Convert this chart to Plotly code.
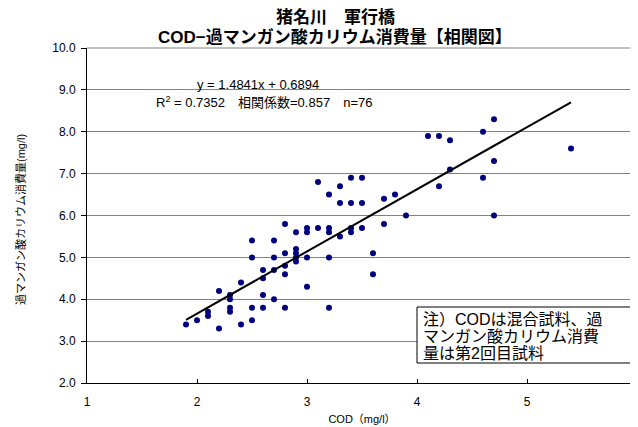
import plotly.graph_objects as go

# ---- data ----
cod = [1.9, 2.0, 2.1, 2.1, 2.2, 2.2, 2.3, 2.3, 2.3, 2.3,
       2.4, 2.4, 2.5, 2.5, 2.5, 2.5, 2.6, 2.6, 2.6, 2.6,
       2.7, 2.7, 2.7, 2.7, 2.8, 2.8, 2.8, 2.8, 2.8, 2.9,
       2.9, 2.9, 2.9, 2.9, 3.0, 3.0, 3.0, 3.0, 3.1, 3.1,
       3.2, 3.2, 3.2, 3.2, 3.2, 3.3, 3.3, 3.3, 3.4, 3.4,
       3.4, 3.4, 3.5, 3.5, 3.5, 3.6, 3.6, 3.7, 3.7, 3.8,
       3.9, 4.1, 4.2, 4.2, 4.3, 4.3, 4.6, 4.6, 4.7, 4.7,
       4.7, 5.4]
kmno4 = [3.4, 3.5, 3.7, 3.6, 4.2, 3.3, 4.1, 4.0, 3.8, 3.7,
         4.4, 3.4, 5.4, 5.0, 3.8, 3.5, 4.7, 4.5, 4.1, 3.8,
         5.4, 5.0, 4.7, 4.0, 5.8, 5.1, 4.8, 4.6, 3.8, 5.6,
         5.2, 5.1, 5.0, 4.9, 5.7, 5.6, 5.0, 4.3, 6.8, 5.7,
         6.5, 5.7, 5.6, 5.0, 3.8, 6.7, 6.3, 5.5, 6.9, 6.3,
         5.7, 5.6, 6.9, 6.3, 5.7, 5.1, 4.6, 6.4, 5.8, 6.5,
         6.0, 7.9, 7.9, 6.7, 7.8, 7.1, 8.0, 6.9, 8.3, 7.3,
         6.0, 7.6]

slope = 1.4841
intercept = 0.6894
r2_text = "0.7352"
corr_text = "0.857"
n_text = "76"

title_lines = ["猪名川　軍行橋", "COD−過マンガン酸カリウム消費量【相関図】"]
x_title = "COD（mg/l）"
y_title = "過マンガン酸カリウム消費量(mg/l)"
note_lines = ["注）CODは混合試料、過", "マンガン酸カリウム消費", "量は第2回目試料"]

x_tickvals = [1, 2, 3, 4, 5, 6]
x_ticktext = ["1", "2", "3", "4", "5", "6"]
y_tickvals = [2, 3, 4, 5, 6, 7, 8, 9, 10]
y_ticktext = ["2.0", "3.0", "4.0", "5.0", "6.0", "7.0", "8.0", "9.0", "10.0"]

FONT = "Liberation Sans, Noto Sans CJK JP, sans-serif"

# trendline over the data extent
tx = [min(cod), max(cod)]
ty = [slope * v + intercept for v in tx]

fig = go.Figure()
fig.add_trace(go.Scatter(
    x=cod, y=kmno4, mode="markers",
    marker=dict(symbol="circle", size=6, color="#000080", line=dict(width=0)),
    showlegend=False, hoverinfo="skip"))
fig.add_trace(go.Scatter(
    x=tx, y=ty, mode="lines",
    line=dict(color="black", width=2),
    showlegend=False, hoverinfo="skip"))


# helpers: page-pixel position -> paper coords (plot area spans x 87..637, y 48..383 on the page)
def px(xp):
    return (xp - 87) / 550


def py(yp):
    return (383 - yp) / 335


annotations = []
# title (two centred lines)
for line, ypix in zip(title_lines, [17, 38]):
    annotations.append(dict(
        text=f"<b>{line}</b>", xref="paper", yref="paper",
        x=px(335), y=py(ypix), xanchor="center", yanchor="middle",
        showarrow=False, font=dict(family=FONT, size=17, color="black")))
# equation + stats
annotations.append(dict(
    text=f"y = {slope}x + {intercept}", xref="paper", yref="paper",
    x=px(258), y=py(84), xanchor="center", yanchor="middle",
    showarrow=False, font=dict(family=FONT, size=13, color="black")))
annotations.append(dict(
    text=f"R<sup>2</sup> = {r2_text}　相関係数={corr_text}　n={n_text}",
    xref="paper", yref="paper",
    x=px(264), y=py(102), xanchor="center", yanchor="middle",
    showarrow=False, font=dict(family=FONT, size=13, color="black")))
# y-axis title
annotations.append(dict(
    text=y_title, xref="paper", yref="paper",
    x=px(20), y=py(220), xanchor="center", yanchor="middle",
    textangle=-90, showarrow=False, font=dict(family=FONT, size=11, color="black")))
# note lines
for line, ypix in zip(note_lines, [319, 336, 353]):
    annotations.append(dict(
        text=line, xref="paper", yref="paper",
        x=px(421), y=py(ypix), xanchor="left", yanchor="middle",
        showarrow=False, font=dict(family=FONT, size=16, color="black")))

shapes = [
    # top frame/grid line at 10.0
    dict(type="line", xref="paper", yref="paper", x0=0, x1=1, y0=1, y1=1,
         line=dict(color="#808080", width=1), layer="below"),
    # note box
    dict(type="rect", xref="paper", yref="paper",
         x0=px(417), x1=px(632), y0=py(363), y1=py(307),
         line=dict(color="black", width=1), fillcolor="white", layer="above"),
]

# the page adds an 8 px body margin, so the figure is 8 px smaller than the window
fig.update_layout(
    width=630, height=419,
    margin=dict(l=79, r=1, t=40, b=44, pad=0),
    paper_bgcolor="white", plot_bgcolor="white",
    font=dict(family=FONT, color="black"),
    xaxis=dict(
        range=[1, 6], tickvals=x_tickvals, ticktext=x_ticktext,
        ticks="inside", ticklen=4, tickcolor="black",
        showline=True, linecolor="black", linewidth=1,
        showgrid=False, zeroline=False,
        tickfont=dict(family=FONT, size=12, color="black"),
        ticklabelstandoff=8, ticklabeloverflow="allow",
        title=dict(text=x_title, font=dict(family=FONT, size=11, color="black"), standoff=6),
        automargin=False, fixedrange=True),
    yaxis=dict(
        range=[2, 10], tickvals=y_tickvals, ticktext=y_ticktext,
        ticks="outside", ticklen=5, tickcolor="black",
        showline=True, linecolor="black", linewidth=1,
        showgrid=True, gridcolor="#808080", gridwidth=1, zeroline=False,
        tickfont=dict(family=FONT, size=12, color="black"),
        ticklabelstandoff=3,
        automargin=False, fixedrange=True),
    annotations=annotations,
    shapes=shapes,
)

fig.write_html("out.html")
